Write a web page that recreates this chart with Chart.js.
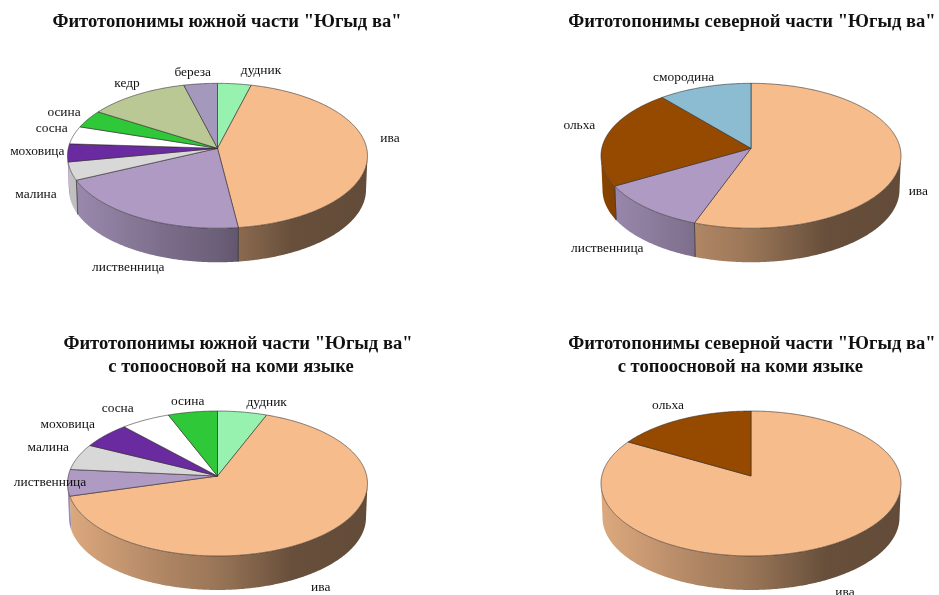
<!DOCTYPE html>
<html lang="ru">
<head>
<meta charset="utf-8">
<title>Фитотопонимы</title>
<script src="https://cdn.jsdelivr.net/npm/chart.js@4"></script>
<style>
html,body{margin:0;padding:0;background:#fff;width:939px;height:595px;overflow:hidden}
canvas{position:absolute;display:block}
</style>
</head>
<body>
<canvas id="c1" width="454" height="297" style="left:0;top:0;width:454px;height:297px"></canvas>
<canvas id="c2" width="394" height="297" style="left:555px;top:0;width:394px;height:297px"></canvas>
<canvas id="c3" width="476" height="298" style="left:0;top:297px;width:476px;height:298px"></canvas>
<canvas id="c4" width="394" height="298" style="left:555px;top:297px;width:394px;height:298px"></canvas>
<script>
// ---------- data ----------
const southLabels = ['дудник','ива','лиственница','малина','моховица','сосна','осина','кедр','береза'];
const southValues = [1,11,5,1,1,1,1,3,1];
const northLabels = ['ива','лиственница','ольха','смородина'];
const northValues = [5,1,2,1];
const southKomiLabels = ['дудник','ива','лиственница','малина','моховица','сосна','осина'];
const southKomiValues = [1,11,1,1,1,1,1];
const northKomiLabels = ['ива','ольха'];
const northKomiValues = [5,1];

const colorByName = {
  'дудник':'#97F2B0','ива':'#F6BC8C','лиственница':'#AE9AC3','малина':'#D8D8D8',
  'моховица':'#6B2BA0','сосна':'#FFFFFF','осина':'#2FC838','кедр':'#BAC896',
  'береза':'#A598BD','ольха':'#964A00','смородина':'#8CBCD2'
};
// ---------- layout (page coordinates of the label centres) ----------
const southLabelPos = [[261,70],[390,138.7],[128.3,267.7],[36,194],[37.3,151.3],[51.7,128.7],[64,112],[127,83.7],[192.7,72]];
const northLabelPos = [[918.3,191],[607.3,248.3],[579.3,125.3],[683.7,77.3]];
const southKomiLabelPos = [[266.7,402.7],[320.7,587],[50,482.7],[48.3,447.3],[67.7,424],[117.7,408.7],[187.7,401.7]];
const northKomiLabelPos = [[845,592],[668,405.7]];

const P = {A:149.2, B:71.7, k:0.1034, depth:34, foot:0.99};
const shade = [[0,.9],[.31,.72],[.5,.62],[.75,.42],[1,.4]];
const DEG = Math.PI/180;

function rim(cx,cy,th){
  const u=Math.sin(th), v=Math.cos(th), w=1+P.k*v;
  return [cx+P.A*u/w, cy-P.B*v/w];
}
function foot(cx,p){ return [cx+(p[0]-cx)*P.foot, p[1]+P.depth]; }
function rgb(hex,f){
  const n=parseInt(hex.slice(1),16);
  return `rgb(${[(n>>16)&255,(n>>8)&255,n&255].map(c=>Math.round(c*f)).join(',')})`;
}
const pie3d = {
  id:'pie3d',
  beforeDatasetsDraw(chart,args,opts){
    const ctx=chart.ctx, arcs=chart.getDatasetMeta(0).data;
    const cols=chart.data.datasets[0].backgroundColor;
    const cx=arcs[0].x+opts.dx, cy=arcs[0].y;
    const N=2*Math.PI/720;
    const steps=(a,b)=>{const o=[];for(let t=a;t<b;t+=N)o.push(t);o.push(b);return o;};
    // walls of the near side of the disc
    arcs.forEach((el,i)=>{
      const a=Math.max(el.startAngle+Math.PI/2,96*DEG), b=Math.min(el.endAngle+Math.PI/2,264*DEG);
      if(b<=a) return;
      const g=ctx.createLinearGradient(cx-150,0,cx+150,0);
      shade.forEach(([t,f])=>g.addColorStop(t,rgb(cols[i],f)));
      const pts=steps(a,b).map(t=>rim(cx,cy,t));
      ctx.beginPath();
      pts.forEach((p,j)=>j?ctx.lineTo(p[0],p[1]):ctx.moveTo(p[0],p[1]));
      pts.slice().reverse().forEach(p=>{const f=foot(cx,p);ctx.lineTo(f[0],f[1]);});
      ctx.closePath();
      ctx.fillStyle=g; ctx.fill();
      ctx.lineWidth=.8; ctx.strokeStyle='rgba(50,45,45,.75)';
      ctx.beginPath();
      [a,b].forEach(t=>{
        if(t>100*DEG&&t<250*DEG){const p=rim(cx,cy,t),f=foot(cx,p);ctx.moveTo(p[0],p[1]);ctx.lineTo(f[0],f[1]);}
      });
      ctx.stroke();
    });
    // top of the disc
    arcs.forEach((el,i)=>{
      const a=el.startAngle+Math.PI/2, b=el.endAngle+Math.PI/2;
      ctx.beginPath(); ctx.moveTo(cx,cy);
      steps(a,b).forEach(t=>{const p=rim(cx,cy,t);ctx.lineTo(p[0],p[1]);});
      ctx.closePath();
      ctx.fillStyle=cols[i]; ctx.fill();
      ctx.lineWidth=.8; ctx.strokeStyle='rgba(45,40,40,.72)'; ctx.stroke();
    });
    return false;
  },
  afterDraw(chart,args,opts){
    const ctx=chart.ctx, box=chart.canvas.getBoundingClientRect();
    ctx.save();
    ctx.font='13.4px "Liberation Serif"'; ctx.fillStyle='#111';
    ctx.textAlign='center'; ctx.textBaseline='middle';
    chart.data.labels.forEach((t,i)=>{
      const p=opts.pos[i];
      ctx.fillText(t,p[0]-box.left,p[1]-box.top);
    });
    ctx.restore();
  }
};
function makePie(id,labels,values,pos,title,titleTop,dx,padBottom){
  return new Chart(document.getElementById(id),{
    type:'pie',
    data:{labels,datasets:[{data:values,backgroundColor:labels.map(n=>colorByName[n])}]},
    options:{
      responsive:false,animation:false,
      layout:{padding:{bottom:padBottom}},
      plugins:{
        legend:{display:false},tooltip:{enabled:false},
        pie3d:{pos,dx},
        title:{display:true,text:title,color:'#111',
          font:{family:'"Liberation Serif"',size:18.6,weight:'bold',lineHeight:Array.isArray(title)?1.237:1.2},
          padding:{top:titleTop,bottom:0}}
      }
    },
    plugins:[pie3d]
  });
}
const NB='\u00A0';
makePie('c1',southLabels,southValues,southLabelPos,'Фитотопонимы южной части "Югыд ва"',10.85,-9.5,33.55);
makePie('c2',northLabels,northValues,northLabelPos,'Фитотопонимы северной части "Югыд ва"',10.85,-1,33.55);
makePie('c3',southKomiLabels,southKomiValues,southKomiLabelPos,['Фитотопонимы южной части "Югыд ва"','с топоосновой на коми языке'+NB.repeat(3)],35.9,-20.5,21.9);
makePie('c4',northKomiLabels,northKomiValues,northKomiLabelPos,['Фитотопонимы северной части "Югыд ва"','с топоосновой на коми языке'+NB.repeat(5)],35.9,-1,21.9);
</script>
</body>
</html>
